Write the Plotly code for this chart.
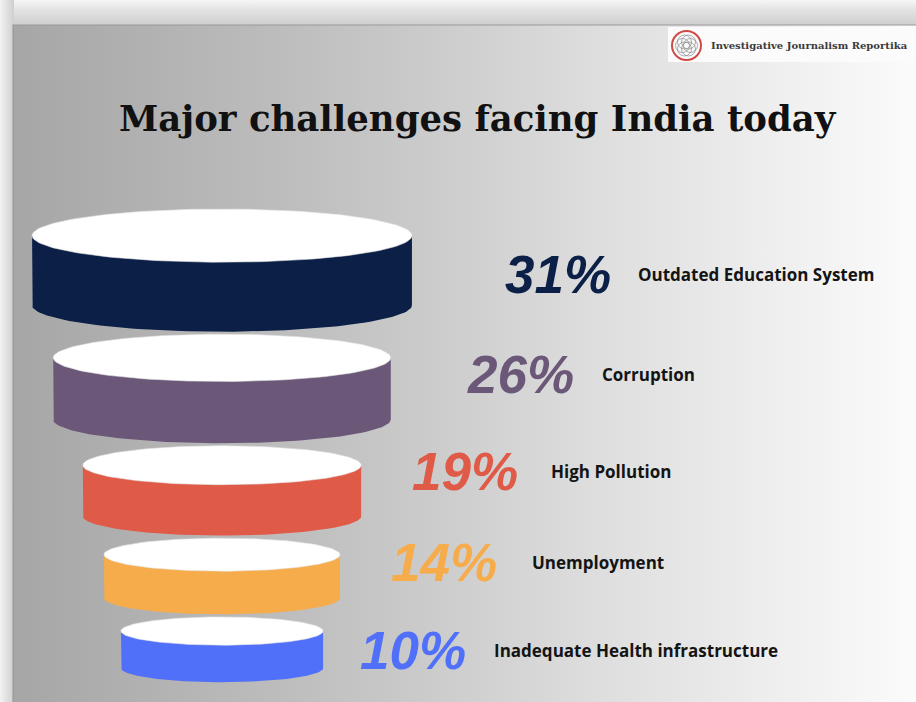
import numpy as np
import plotly.graph_objects as go

# Survey shares (percent) and their categories, widest ring first
categories = [
    "Outdated Education System",
    "Corruption",
    "High Pollution",
    "Unemployment",
    "Inadequate Health infrastructure",
]
shares = [31, 26, 19, 14, 10]
ring_colors = ["#0b1f47", "#6b5879", "#e05a48", "#f6ac4a", "#5170f9"]
title_text = "Major challenges facing India today"
brand_text = "Investigative Journalism Reportika"

# Canvas and funnel geometry (pixels)
W, H = 916, 702
CX = 222            # funnel axis
PX_PER_UNIT = 4.23  # pixels per percentage point of half-width
BASE = 13.9         # half-width offset (percentage units)
TOP0 = 209          # top of first ring
GAP = 2.5
RY_RATIO = 0.07     # ellipse half-height / ring width
BODY_RATIO = 0.183  # side height / ring width

# Label placement (pixels)
pct_right = [613, 576, 520, 499, 468]
name_left = [636, 600, 549, 530, 492]
row_y = [274, 374, 471, 562, 650]

fig = go.Figure()

# ---- background (pixel axes x/y) ----
def rect_trace(x0, y0, x1, y1, grad_type, scale):
    return go.Scatter(
        x=[x0, x1, x1, x0, x0], y=[y0, y0, y1, y1, y0],
        mode="lines", line=dict(width=0), fill="toself",
        fillgradient=dict(type=grad_type, colorscale=scale),
        hoverinfo="skip", showlegend=False, xaxis="x", yaxis="y",
    )

fig.add_trace(rect_trace(0, 0, W, 26, "vertical",
                         [[0, "#cdcdcd"], [0.6, "#e2e2e2"], [1, "#f6f6f6"]]))
fig.add_trace(rect_trace(0, 0, 14, H, "horizontal",
                         [[0, "#f2f2f2"], [0.5, "#e0e0e0"], [1, "#cfcfcf"]]))
fig.add_trace(rect_trace(13, 25, W, H, "horizontal",
                         [[0, "#a6a6a6"], [0.3, "#bdbdbd"], [0.48, "#cdcdcd"],
                          [0.65, "#dedede"], [0.85, "#efefef"], [1, "#fbfbfb"]]))
# thin darker rim along the panel's top and left edges
fig.add_trace(go.Scatter(x=[13, 13, W], y=[H, 25, 25], mode="lines",
                         line=dict(color="#9a9a9a", width=1.2),
                         hoverinfo="skip", showlegend=False, xaxis="x", yaxis="y"))

# ---- funnel rings (value axis x2, pixel axis y2) ----
t_front = np.linspace(np.pi, 0, 80)
t_full = np.linspace(0, 2 * np.pi, 160)
cursor = TOP0
for v, col in zip(shares, ring_colors):
    half = BASE + v
    wpx = 2 * half * PX_PER_UNIT
    ry = RY_RATIO * wpx
    body = BODY_RATIO * wpx
    yc = cursor + ry
    yb = yc + body
    bx = np.concatenate([[-half, -half], half * np.cos(t_front), [half, -half]])
    by = np.concatenate([[yc, yb], yb + ry * np.sin(t_front), [yc, yc]])
    fig.add_trace(go.Scatter(x=bx, y=by, mode="lines", line=dict(width=0),
                             fill="toself", fillcolor=col, hoverinfo="skip",
                             showlegend=False, xaxis="x2", yaxis="y2"))
    fig.add_trace(go.Scatter(x=half * np.cos(t_full), y=yc + ry * np.sin(t_full),
                             mode="lines", line=dict(width=0.6, color="#e4e4e4"),
                             fill="toself", fillcolor="#ffffff", hoverinfo="skip",
                             showlegend=False, xaxis="x2", yaxis="y2"))
    cursor = yb + ry + GAP

# ---- labels ----
annotations = []
for v, name, col, xr, xl, yy in zip(shares, categories, ring_colors,
                                    pct_right, name_left, row_y):
    annotations.append(dict(
        x=xr, y=yy, xref="x", yref="y", xanchor="right", yanchor="middle",
        text=f"{v}%", showarrow=False,
        font=dict(family="Liberation Sans", size=53, color=col,
                  weight="bold", style="italic")))
    annotations.append(dict(
        x=xl, y=yy, xref="x", yref="y", xanchor="left", yanchor="middle",
        text=name, showarrow=False,
        font=dict(family="Open Sans", size=17, color="#141414", weight="bold")))

annotations.append(dict(
    x=478, y=118, xref="x", yref="y", xanchor="center", yanchor="middle",
    text=title_text, showarrow=False,
    font=dict(family="DejaVu Serif", size=35.5, color="#111111", weight="bold")))

annotations.append(dict(
    x=709, y=45, xref="x", yref="y", xanchor="left", yanchor="middle",
    text=brand_text, showarrow=False,
    font=dict(family="DejaVu Serif", size=10, color="#3a3a3a", weight="bold")))

# ---- brand badge ----
shapes = [
    dict(type="rect", xref="x", yref="y", x0=668, y0=27, x1=W, y1=62,
         fillcolor="#fbfbfb", line=dict(width=0), layer="above"),
    dict(type="circle", xref="x", yref="y", x0=672, y0=31, x1=701, y1=60,
         line=dict(color="#cf4a44", width=2), fillcolor="rgba(0,0,0,0)", layer="above"),
]
for a in np.linspace(0, 2 * np.pi, 6, endpoint=False):
    cx, cy = 686.5 + 4 * np.cos(a), 45.5 + 4 * np.sin(a)
    shapes.append(dict(type="circle", xref="x", yref="y",
                       x0=cx - 7, y0=cy - 7, x1=cx + 7, y1=cy + 7,
                       line=dict(color="#8a8a8a", width=0.7),
                       fillcolor="rgba(0,0,0,0)", layer="above"))

fig.update_layout(
    width=W, height=H,
    margin=dict(l=0, r=0, t=0, b=0),
    paper_bgcolor="#e4e4e4", plot_bgcolor="rgba(0,0,0,0)",
    showlegend=False,
    xaxis=dict(range=[0, W], domain=[0, 1], visible=False, fixedrange=True),
    yaxis=dict(range=[H, 0], domain=[0, 1], visible=False, fixedrange=True),
    xaxis2=dict(range=[-CX / PX_PER_UNIT, (W - CX) / PX_PER_UNIT], domain=[0, 1],
                overlaying="x", visible=False, fixedrange=True),
    yaxis2=dict(range=[H, 0], domain=[0, 1], overlaying="y",
                visible=False, fixedrange=True),
    annotations=annotations,
    shapes=shapes,
)

fig.write_html("out.html")
